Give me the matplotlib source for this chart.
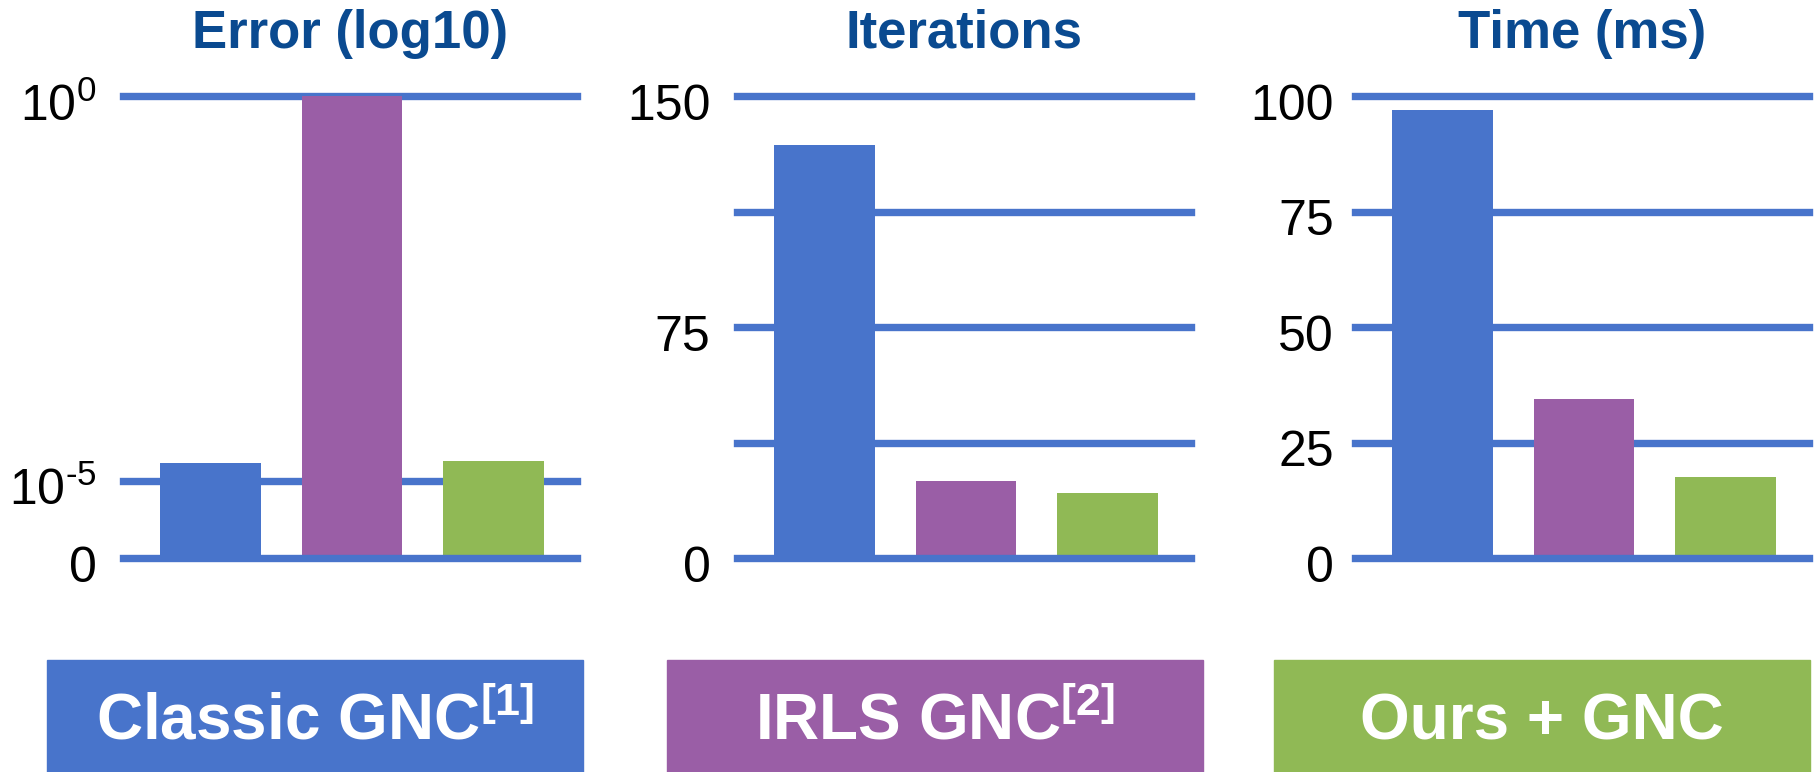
import numpy as np
import matplotlib.pyplot as plt
from matplotlib.patches import Rectangle
from matplotlib.transforms import ScaledTranslation

plt.rcParams['font.family'] = ['Liberation Sans', 'DejaVu Sans']
plt.rcParams['mathtext.fontset'] = 'custom'
plt.rcParams['mathtext.rm'] = 'Liberation Sans'
plt.rcParams['mathtext.it'] = 'Liberation Sans:italic'
plt.rcParams['mathtext.bf'] = 'Liberation Sans:bold'

# data
methods = ['Classic GNC', 'IRLS GNC', 'Ours + GNC']
method_labels = [r'Classic GNC$^{\mathbf{[1]}}$', r'IRLS GNC$^{\mathbf{[2]}}$', 'Ours + GNC']
error = [1.7e-5, 1.0, 1.8e-5]
iterations = [134, 25, 21]
time_ms = [97, 34.5, 17.5]

titles = ['Error (log10)', 'Iterations', 'Time (ms)']
colors = ['#4874CB', '#9A5EA6', '#90B955']
grid_color = '#4874CB'
title_color = '#0A4A90'

# error axis: 0 at bottom, then one unit per decade from 1e-5 upward
err_pos = [np.log10(e) + 6 for e in error]
err_ticks = [0, 1, 6]
err_ticklabels = ['0', r'$10^{\text{-}5}$', r'$10^{0}$']

iter_grid = [0, 37.5, 75, 112.5, 150]
iter_ticks = [0, 75, 150]
time_grid = [0, 25, 50, 75, 100]

W, H = 1815, 772
fig = plt.figure(figsize=(W / 100, H / 100), dpi=100)

lefts = [123, 737, 1355]
pads = [19, 19, 15]
ax_w, ax_b, ax_top = 454, 558, 96

panels = [
    (err_pos, err_ticks, err_ticks, err_ticklabels, 6),
    (iterations, iter_grid, iter_ticks, [str(t) for t in iter_ticks], 150),
    (time_ms, time_grid, time_grid, [str(t) for t in time_grid], 100),
]

x = np.arange(len(methods))
shift = ScaledTranslation(0, -4 / 72, fig.dpi_scale_trans)
for i, (vals, grid, ticks, ticklabels, ymax) in enumerate(panels):
    ax = fig.add_axes([lefts[i] / W, (H - ax_b) / H, ax_w / W, (ax_b - ax_top) / H])
    for g in grid:
        ax.axhline(g, color=grid_color, lw=5.3, zorder=1 if g > 0 else 3, clip_on=False)
    ax.bar(x, vals, width=0.71, color=colors, zorder=2)
    ax.set_xlim(-0.62, 2.59)
    ax.set_ylim(0, ymax)
    ax.set_xticks([])
    ax.set_yticks(ticks)
    ax.set_yticklabels(ticklabels)
    ax.tick_params(axis='y', length=0, pad=pads[i], labelsize=36)
    for lab in ax.get_yticklabels():
        lab.set_transform(lab.get_transform() + shift)
    for s in ax.spines.values():
        s.set_visible(False)
    ax.text(0.5, (ax_b - 48) / (ax_b - ax_top), titles[i], transform=ax.transAxes,
            ha='center', va='baseline', fontsize=38, fontweight='bold', color=title_color)

# method boxes along the bottom
box_x = [47, 667, 1274]
box_w = 536
for i, lab in enumerate(method_labels):
    fig.patches.append(Rectangle((box_x[i] / W, 0), box_w / W, 112 / H,
                                 transform=fig.transFigure, color=colors[i], zorder=0))
    fig.text((box_x[i] + box_w / 2) / W, (H - 739) / H, lab, ha='center', va='baseline',
             fontsize=46, fontweight='bold', color='white')

fig.savefig('out.png', dpi=100)
